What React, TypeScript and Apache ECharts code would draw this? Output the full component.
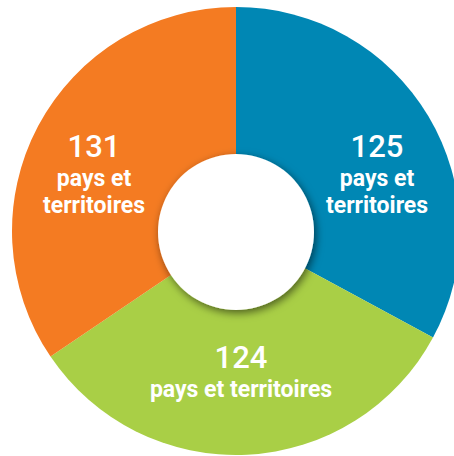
import React, { useEffect, useRef } from "react";
import * as echarts from "echarts";

const categories = ["bleu", "vert", "orange"];
const values = [125, 124, 131];
const unitLines = [["pays et", "territoires"], ["pays et territoires"], ["pays et", "territoires"]];
const colors = ["#0087B4", "#A9CF46", "#F47B22"];
// label anchor positions (px) for each slice's text block
const labelPos = [
  [377, 146],
  [241, 357],
  [94, 146],
];

export default function App() {
  const ref = useRef<HTMLDivElement>(null);
  useEffect(() => {
    if (!ref.current) return;
    const chart = echarts.init(ref.current, null, { renderer: "svg" });
    const cx = 236;
    const cy = 231;
    const graphics: any[] = [];
    values.forEach((v, i) => {
      const [x, y] = labelPos[i];
      graphics.push({
        type: "text",
        x,
        y,
        z: 10,
        style: {
          text: String(v),
          fill: "#fff",
          font: "500 31px Roboto, sans-serif",
          align: "center",
          verticalAlign: "middle",
        },
      });
      unitLines[i].forEach((t, j) => {
        graphics.push({
          type: "text",
          x,
          y: y + 32 + j * 27,
          z: 10,
          style: {
            text: t,
            fill: "#fff",
            font: "bold 23px Roboto, sans-serif",
            align: "center",
            verticalAlign: "middle",
          },
        });
      });
    });
    graphics.push({
      type: "circle",
      z: 5,
      shape: { cx: cx, cy: cy + 1, r: 78 },
      style: {
        fill: "#fff",
        shadowBlur: 8,
        shadowOffsetX: 2,
        shadowOffsetY: 3,
        shadowColor: "rgba(0,0,0,0.55)",
      },
    });
    chart.setOption({
      animation: false,
      series: [
        {
          type: "pie",
          center: [cx, cy],
          radius: [0, 224],
          startAngle: 90,
          clockwise: true,
          label: { show: false },
          labelLine: { show: false },
          silent: true,
          data: categories.map((c, i) => ({
            name: c,
            value: values[i],
            itemStyle: { color: colors[i], borderWidth: 0 },
          })),
        },
      ],
      graphic: graphics,
    });
    return () => chart.dispose();
  }, []);
  return (
    <div
      ref={ref}
      style={{ position: "fixed", left: 0, top: 0, width: 454, height: 456, background: "#fff" }}
    />
  );
}
